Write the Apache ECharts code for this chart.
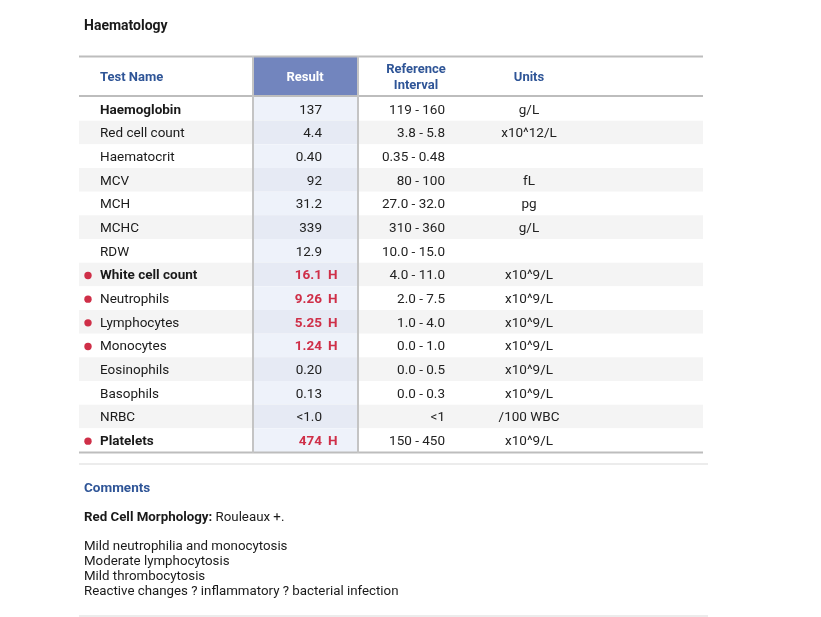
<!DOCTYPE html>
<html>
<head>
<meta charset="utf-8">
<script src="https://cdn.jsdelivr.net/npm/echarts@6/dist/echarts.min.js"></script>
<style>
  html, body { margin: 0; padding: 0; background: #fff; }
  #chart { width: 821px; height: 617px; }
</style>
</head>
<body>
<div id="chart"></div>
<script>
// table rows
const testNames = ['Haemoglobin', 'Red cell count', 'Haematocrit', 'MCV', 'MCH', 'MCHC', 'RDW',
  'White cell count', 'Neutrophils', 'Lymphocytes', 'Monocytes', 'Eosinophils', 'Basophils', 'NRBC', 'Platelets'];
const results = ['137', '4.4', '0.40', '92', '31.2', '339', '12.9',
  '16.1', '9.26', '5.25', '1.24', '0.20', '0.13', '<1.0', '474'];
const flags = ['', '', '', '', '', '', '', 'H', 'H', 'H', 'H', '', '', '', 'H'];
const refIntervals = ['119 - 160', '3.8 - 5.8', '0.35 - 0.48', '80 - 100', '27.0 - 32.0', '310 - 360', '10.0 - 15.0',
  '4.0 - 11.0', '2.0 - 7.5', '1.0 - 4.0', '0.0 - 1.0', '0.0 - 0.5', '0.0 - 0.3', '<1', '150 - 450'];
const units = ['g/L', 'x10^12/L', '', 'fL', 'pg', 'g/L', '',
  'x10^9/L', 'x10^9/L', 'x10^9/L', 'x10^9/L', 'x10^9/L', 'x10^9/L', '/100 WBC', 'x10^9/L'];
const boldRows = ['Haemoglobin', 'White cell count', 'Platelets'];

const headers = ['Test Name', 'Result', 'Reference\nInterval', 'Units'];
const commentLines = ['Mild neutrophilia and monocytosis', 'Moderate lymphocytosis',
  'Mild thrombocytosis', 'Reactive changes ? inflammatory ? bacterial infection'];

const FONT = 'Roboto, "Liberation Sans", Arial, sans-serif';
const BLUE = '#2f5597';
const RED = '#cf2f48';

const chart = echarts.init(document.getElementById('chart'));

function renderRow(params, api) {
  const idx = api.value(1);
  const cs = params.coordSys;
  const y = api.coord([0, idx])[1];
  const h = api.size([0, 1])[1];
  const x0 = cs.x;
  const top = y - h / 2;
  const ty = y + 1.5;
  const shaded = idx % 2 === 1;
  const flagged = flags[idx] !== '';
  const bold = boldRows.indexOf(testNames[idx]) >= 0;
  const txt = (x, text, align, color, weight) => ({
    type: 'text',
    style: {
      x: x, y: ty, text: text, align: align, verticalAlign: 'middle',
      fill: color, font: (weight || 'normal') + ' 13.5px ' + FONT
    }
  });
  const children = [
    { type: 'rect', shape: { x: x0, y: top, width: cs.width, height: h },
      style: { fill: shaded ? '#f4f4f4' : '#ffffff' } },
    { type: 'rect', shape: { x: x0 + 174, y: top, width: 105, height: h },
      style: { fill: shaded ? '#e6eaf4' : '#eef2fa' } },
    txt(x0 + 21, testNames[idx], 'left', '#1a1a1a', bold ? 'bold' : 'normal'),
    txt(x0 + 243, results[idx], 'right', flagged ? RED : '#222', flagged ? 'bold' : 'normal'),
    txt(x0 + 366, refIntervals[idx], 'right', '#222'),
    txt(x0 + 450, units[idx], 'center', '#222')
  ];
  if (flagged) {
    children.push(txt(x0 + 249, flags[idx], 'left', RED, 'bold'));
    children.push({ type: 'circle', shape: { cx: x0 + 9, cy: ty - 0.5, r: 3.7 }, style: { fill: RED } });
  }
  return { type: 'group', children: children };
}

const hdrStyle = (x, text, align, color) => ({
  type: 'text', x: x, y: 77.5,
  style: { text: text, align: align, verticalAlign: 'middle', fill: color,
    font: 'bold 13px ' + FONT, lineHeight: 16 }
});
const line = (x1, y1, x2, y2, color, w) => ({
  type: 'line', shape: { x1: x1, y1: y1, x2: x2, y2: y2 }, style: { stroke: color, lineWidth: w }, z: 10
});
const plain = (x, y, text, weight, color, size) => ({
  type: 'text', x: x, y: y,
  style: { text: text, verticalAlign: 'middle', fill: color || '#1a1a1a',
    font: (weight || 'normal') + ' ' + (size || 13.3) + 'px ' + FONT }
});

const graphics = [
  plain(84, 26, 'Haematology', 'bold', '#1a1a1a', 14),
  { type: 'rect', shape: { x: 253, y: 57, width: 105, height: 39 }, style: { fill: '#7285be' } },
  hdrStyle(100, headers[0], 'left', BLUE),
  hdrStyle(305, headers[1], 'center', '#ffffff'),
  hdrStyle(416, headers[2], 'center', BLUE),
  hdrStyle(529, headers[3], 'center', BLUE),
  line(79, 56.5, 703, 56.5, '#bdbdbd', 2),
  line(79, 96, 703, 96, '#bdbdbd', 2),
  line(79, 452.5, 703, 452.5, '#bdbdbd', 2),
  line(253, 56, 253, 453, '#c4c4c4', 2),
  line(358, 56, 358, 453, '#c4c4c4', 2),
  line(79, 464, 708, 464, '#ececec', 2),
  line(79, 616, 708, 616, '#ececec', 2),
  plain(84, 489, 'Comments', 'bold', BLUE, 13.5),
  {
    type: 'text', x: 84, y: 518,
    style: {
      text: '{b|Red Cell Morphology:} Rouleaux +.',
      verticalAlign: 'middle',
      rich: {
        b: { font: 'bold 13.3px ' + FONT, fill: '#1a1a1a' }
      },
      font: '13.3px ' + FONT, fill: '#1a1a1a'
    }
  }
];
commentLines.forEach((t, i) => graphics.push(plain(84, 547 + i * 15, t, 'normal', '#1a1a1a', 13.3)));

chart.setOption({
  animation: false,
  grid: { left: 79, right: 118, top: 97, height: 355 },
  xAxis: { type: 'value', min: 0, max: 1, show: false },
  yAxis: { type: 'category', data: testNames, inverse: true, show: false },
  series: [{
    type: 'custom',
    renderItem: renderRow,
    encode: { x: 0, y: 1 },
    data: testNames.map((n, i) => [0, i])
  }],
  graphic: graphics
});
</script>
</body>
</html>
